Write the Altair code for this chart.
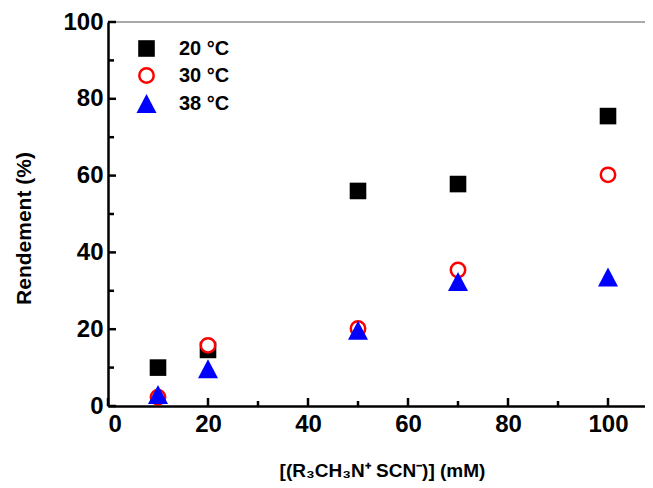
import altair as alt
import pandas as pd

# Data
conc = [10, 20, 50, 70, 100]
series_names = ["20 °C", "30 °C", "38 °C"]
y_20 = [10.0, 14.6, 56.0, 57.8, 75.5]
y_30 = [2.3, 15.8, 20.2, 35.4, 60.2]
y_38 = [3.0, 9.7, 19.7, 32.4, 33.6]

x_major = [0, 20, 40, 60, 80, 100]
x_minor = [10, 30, 50, 70, 90]
y_major = [0, 20, 40, 60, 80, 100]
y_minor = [10, 30, 50, 70, 90]

rows = []
for name, ys in zip(series_names, [y_20, y_30, y_38]):
    for c, v in zip(conc, ys):
        rows.append({"x": c, "y": v, "series": name})
df = pd.DataFrame(rows)

W, H = 537, 384
FONT = "Liberation Sans"

xscale = alt.Scale(domain=[0, 107.4], nice=False, zero=False)
yscale = alt.Scale(domain=[0, 100], nice=False)

xenc = alt.X(
    "x:Q",
    scale=xscale,
    axis=alt.Axis(
        title="[(R₃CH₃N⁺ SCN⁻)] (mM)",
        values=x_major,
        ticks=False,
        grid=False,
        domainColor="black",
        domainWidth=2.5,
        labelFont=FONT,
        labelFontSize=24,
        labelFontWeight="bold",
        labelColor="black",
        labelPadding=6,
        titleFont=FONT,
        titleFontSize=19,
        titleFontWeight="bold",
        titleColor="black",
        titleBaseline="middle",
        titleY=64,
        titleX=274,
        titleAlign="center",
    ),
)
yenc = alt.Y(
    "y:Q",
    scale=yscale,
    axis=alt.Axis(
        title="Rendement (%)",
        values=y_major,
        ticks=False,
        grid=False,
        domainColor="black",
        domainWidth=2.5,
        labelFont=FONT,
        labelFontSize=24,
        labelFontWeight="bold",
        labelColor="black",
        labelPadding=5,
        titleFont=FONT,
        titleFontSize=21,
        titleFontWeight="bold",
        titleColor="black",
        titleBaseline="middle",
        titleX=-84,
        titleY=206,
        titleAlign="center",
    ),
)

sq = "M-0.83,-0.83H0.83V0.83H-0.83Z"
circ = "M-0.72,0A0.72,0.72 0 1,0 0.72,0A0.72,0.72 0 1,0 -0.72,0Z"
tri = "M0,-0.95L1,0.95L-1,0.95Z"

points = alt.Chart(df).mark_point(
    filled=True, opacity=1, size=400, strokeWidth=2.5
).encode(
    x=xenc,
    y=yenc,
    shape=alt.Shape("series:N", title=None,
                    scale=alt.Scale(domain=series_names, range=[sq, circ, tri])),
    fill=alt.Fill("series:N", title=None,
                  scale=alt.Scale(domain=series_names, range=["black", "white", "blue"])),
    stroke=alt.Stroke("series:N", title=None,
                      scale=alt.Scale(domain=series_names, range=["transparent", "red", "transparent"])),
)

def xticks(vals, length):
    return alt.Chart(pd.DataFrame({"x": vals})).mark_rule(
        color="black", strokeWidth=2.5
    ).encode(x=xenc, y=alt.value(H - length), y2=alt.value(H))

def yticks(vals, length):
    return alt.Chart(pd.DataFrame({"y": vals})).mark_rule(
        color="black", strokeWidth=2.5
    ).encode(y=yenc, x=alt.value(0), x2=alt.value(length))

top_line = alt.Chart(pd.DataFrame({"x": [0]})).mark_rule(
    color="#555555", strokeWidth=1.2
).encode(y=alt.value(0), x=alt.value(0), x2=alt.value(W))

chart = alt.layer(
    top_line,
    xticks(x_major, 8),
    xticks(x_minor, 5),
    yticks(y_major, 8),
    yticks(y_minor, 6),
    points,
).properties(
    width=W,
    height=H,
    autosize=alt.AutoSizeParams(type="none"),
    padding={"left": 100, "top": 14, "right": 0, "bottom": 80},
    background="white",
).configure_view(
    stroke=None
).configure_legend(
    orient="none",
    legendX=27,
    legendY=15,
    labelFont=FONT,
    labelFontSize=20,
    labelFontWeight="bold",
    labelColor="black",
    labelOffset=21,
    symbolSize=400,
    symbolStrokeWidth=2.5,
    rowPadding=1,
)

chart.save("out.html", embed_options={"renderer": "svg", "actions": False})
